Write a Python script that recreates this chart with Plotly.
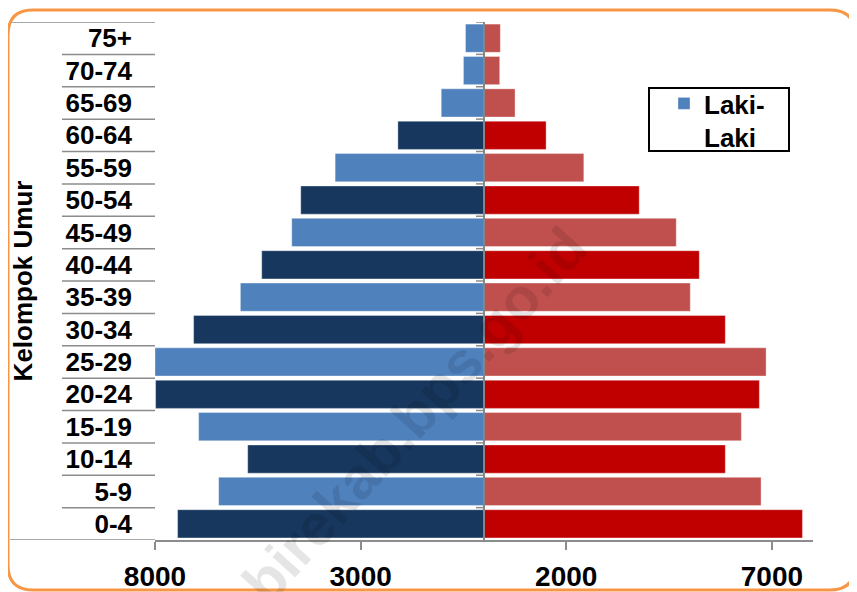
import plotly.graph_objects as go

# ---------------- data ----------------
age_groups = ["75+", "70-74", "65-69", "60-64", "55-59", "50-54", "45-49", "40-44",
              "35-39", "30-34", "25-29", "20-24", "15-19", "10-14", "5-9", "0-4"]
laki_laki = [450, 500, 1040, 2094, 3620, 4456, 4675, 5405,
             5924, 7061, 8000, 7986, 6939, 5746, 6452, 7451]
perempuan = [397, 382, 755, 1510, 2427, 3774, 4675, 5235,
             5016, 5868, 6859, 6696, 6258, 5868, 6737, 7743]
x_tickvals = [-8000, -3000, 2000, 7000]
x_ticktext = ["8000", "3000", "2000", "7000"]
x_range = [-8000, 8000]

# ---------------- styles ----------------
shade = ["L", "L", "L", "D", "L", "D", "L", "D", "L", "D", "L", "D", "L", "D", "L", "D"]
BLUE = {"L": "#4F81BD", "D": "#17375E"}
RED = {"L": "#C0504D", "D": "#C00000"}
male_colors = [BLUE[s] for s in shade]
female_colors = [RED[s] for s in shade]
FONT = "Liberation Sans, Arial, sans-serif"
GRAY = "#8C8C8C"

# page has an 8px body margin: figure drawn at (8, 8)
OFF = 8
W, H = 857 - OFF, 592 - OFF
L, R, T, B = 155 - OFF, 813 - OFF, 22 - OFF, 540 - OFF


def px(x):  # screen pixel -> paper
    return (x - OFF - L) / (R - L)


def py(y):
    return (B - (y - OFF)) / (B - T)


fig = go.Figure()
fig.add_trace(go.Bar(
    y=age_groups, x=[-v for v in laki_laki], orientation="h",
    name="Laki-<br>Laki", marker=dict(color=male_colors,
                                     line=dict(color="rgba(255,255,255,0.35)", width=1)),
    customdata=laki_laki, hovertemplate="%{y}: %{customdata}<extra>Laki-Laki</extra>",
    showlegend=True,
))
fig.add_trace(go.Bar(
    y=age_groups, x=perempuan, orientation="h",
    name="Perempuan", marker=dict(color=female_colors,
                                  line=dict(color="rgba(255,255,255,0.35)", width=1)),
    hovertemplate="%{y}: %{x}<extra>Perempuan</extra>",
    showlegend=False,
))

shapes = []
n = len(age_groups)
# category table lines on the left and small ticks on the centre axis
for b in range(n + 1):
    yv = b - 0.5
    x0 = px(10) if b in (0, n) else px(62)
    shapes.append(dict(type="line", xref="paper", yref="y", x0=x0, x1=0, y0=yv, y1=yv,
                       line=dict(color=GRAY, width=1.5), layer="above"))
    if b < n:
        shapes.append(dict(type="line", xref="paper", yref="y", x0=0.5 - 8 / (R - L), x1=0.5,
                           y0=yv, y1=yv, line=dict(color=GRAY, width=1.5), layer="above"))
# centre axis line
shapes.append(dict(type="line", xref="x", yref="paper", x0=0, x1=0, y0=0, y1=1,
                   line=dict(color="#868686", width=2), layer="above"))
# legend frame
shapes.append(dict(type="rect", xref="paper", yref="paper", x0=px(649), x1=px(789),
                   y0=py(151), y1=py(88), line=dict(color="black", width=2),
                   fillcolor="rgba(0,0,0,0)", layer="above"))
# orange rounded outer border
bx0, by0, bx1, by1, r = 8, 10, 855, 590, 25
path = (f"M {px(bx0 + r)},{py(by0)} L {px(bx1 - r)},{py(by0)} "
        f"Q {px(bx1)},{py(by0)} {px(bx1)},{py(by0 + r)} "
        f"L {px(bx1)},{py(by1 - r)} Q {px(bx1)},{py(by1)} {px(bx1 - r)},{py(by1)} "
        f"L {px(bx0 + r)},{py(by1)} Q {px(bx0)},{py(by1)} {px(bx0)},{py(by1 - r)} "
        f"L {px(bx0)},{py(by0 + r)} Q {px(bx0)},{py(by0)} {px(bx0 + r)},{py(by0)} Z")
shapes.append(dict(type="path", xref="paper", yref="paper", path=path,
                   line=dict(color="#F79646", width=3), layer="above"))

fig.update_layout(
    template="none",
    width=W, height=H,
    margin=dict(l=L, r=W - R, t=T, b=H - B, pad=0),
    paper_bgcolor="white", plot_bgcolor="white",
    barmode="relative", bargap=0.13,
    font=dict(family=FONT, color="black"),
    showlegend=True,
    legend=dict(x=px(664), y=py(80), xanchor="left", yanchor="top",
                bgcolor="rgba(0,0,0,0)", borderwidth=0, valign="top",
                font=dict(family=FONT, size=26, weight="bold", color="black")),
    xaxis=dict(range=x_range, tickmode="array", tickvals=x_tickvals, ticktext=x_ticktext,
               showgrid=False, zeroline=False, showline=True, linecolor=GRAY, linewidth=1.5,
               ticks="outside", ticklen=8, tickwidth=1.5, tickcolor=GRAY,
               ticklabelstandoff=3, automargin=False,
               tickfont=dict(family=FONT, size=28, weight="bold", color="black")),
    yaxis=dict(type="category", categoryarray=age_groups, categoryorder="array",
               range=[n - 0.5, -0.5], showgrid=False, zeroline=False, showline=False,
               ticks="", ticklabelstandoff=22, automargin=False,
               tickfont=dict(family=FONT, size=26, weight="bold", color="black"),
               title=dict(text="Kelompok Umur", standoff=26,
                          font=dict(family=FONT, size=26, weight="bold", color="black"))),
    shapes=shapes,
    annotations=[dict(text="nabirekab.bps.go.id", xref="paper", yref="paper",
                      x=px(392), y=py(440), xanchor="center", yanchor="middle",
                      textangle=-48, showarrow=False,
                      font=dict(family=FONT, size=58, weight="bold", color="rgba(0,0,0,0.1)"))],
)

fig.write_html("out.html")
